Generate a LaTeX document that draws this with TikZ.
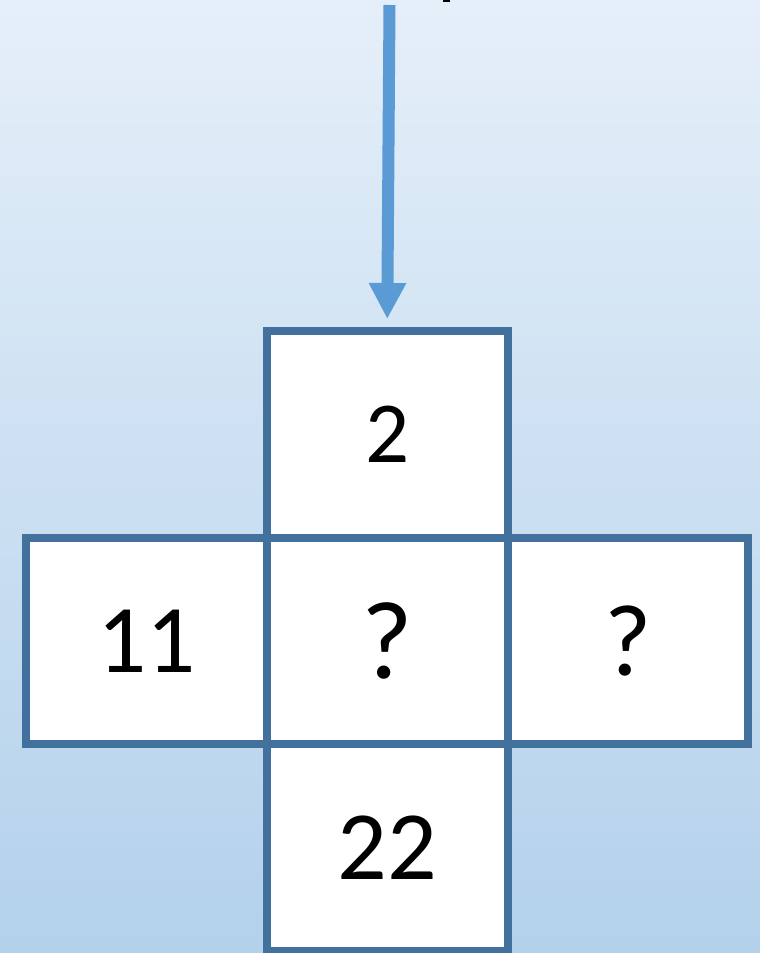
\documentclass[tikz,border=0pt]{standalone}
\usepackage{fontspec}
\setmainfont{Carlito}
\usetikzlibrary{arrows.meta,calc}
\definecolor{bgtop}{RGB}{229,239,249}
\definecolor{bgbot}{RGB}{179,209,235}
\definecolor{cellline}{RGB}{65,113,156}
\definecolor{arrowblue}{RGB}{91,155,213}
\tikzset{
  cell/.style={draw=cellline, fill=white, line width=8pt, inner sep=0pt,
    minimum width=240.5pt, minimum height=206.5pt},
  fs/.style={font=\fontsize{#1}{#1}\selectfont},
  arrowline/.style={draw=arrowblue, line width=12pt, -{Triangle[width=35pt,length=36pt]}}
}
\begin{document}
\begin{tikzpicture}[x=1pt,y=-1pt]
\useasboundingbox (0,0) rectangle (760,953);
\shade[top color=bgtop, bottom color=bgbot] (0,0) rectangle (760,953);
\fill[black] (443,0) rectangle (450,2);
\node[cell, fs=87] (top) at (387.25,434.25) {2};
\node[cell, fs=97] (left) at (146.5,641) {11};
\node[cell, fs=111] (mid) at (387.25,641) {?};
\node[cell, fs=102] (right) at (628,641) {?};
\node[cell, fs=98] (bot) at (387.25,847.5) {22};
\coordinate (start) at (389.5,5);
\coordinate (tip) at ($(top.north)+(0,-8)$);
\draw[arrowline] (start) -- (tip);
\end{tikzpicture}
\end{document}
